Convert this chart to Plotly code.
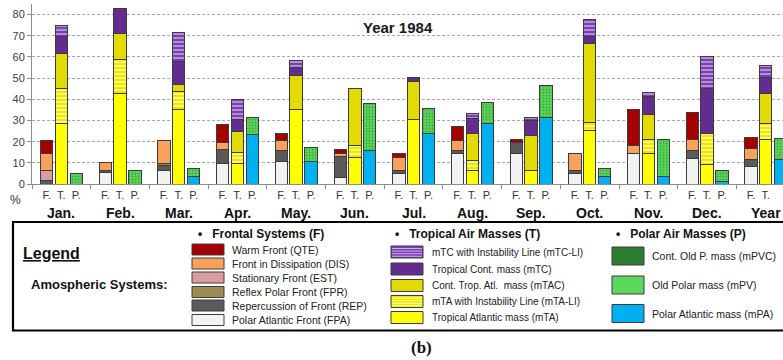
import plotly.graph_objects as go

# ---------------- data ----------------
months = ["Jan.", "Feb.", "Mar.", "Apr.", "May.", "Jun.", "Jul.", "Aug.", "Sep.", "Oct.", "Nov.", "Dec.", "Year"]
group_labels = ["F.", "T.", "P."]
y_ticks = [0, 10, 20, 30, 40, 50, 60, 70, 80]

# Frontal systems (F)
fpa = [0, 5.2, 6.3, 9.9, 10.7, 3.1, 4.9, 14.3, 14.6, 4.9, 14.6, 12.2, 8.3]
rep = [1.5, 1.4, 2.5, 6.3, 5.1, 9.8, 1.7, 1.5, 5.0, 1.5, 0, 3.5, 3.5]
fpr = [0, 0, 1.0, 0, 0, 0, 0, 0, 0, 0, 0, 0, 0]
est = [4.8, 0, 0, 0, 0, 0, 0, 0, 0, 0, 0, 0, 0]
dis = [8.0, 3.4, 10.9, 3.3, 4.9, 1.5, 5.9, 4.9, 0, 7.9, 3.4, 5.2, 5.1]
qte = [6.4, 0, 0, 8.6, 3.3, 1.8, 1.9, 6.6, 1.6, 0, 17.0, 12.8, 5.1]

# Tropical air masses (T)
mta = [28.5, 42.8, 35.3, 9.9, 35.3, 12.7, 30.6, 6.3, 6.6, 25.3, 14.6, 9.4, 21.0]
mta_li = [16.7, 16.0, 8.3, 4.8, 0, 5.5, 0, 4.7, 0, 3.7, 6.6, 14.3, 7.4]
mtac = [16.3, 12.2, 3.5, 9.9, 16.0, 27.0, 18.0, 13.0, 16.5, 37.4, 11.7, 0, 14.4]
mtc = [8.3, 12.1, 10.9, 5.8, 3.9, 0, 1.6, 6.7, 6.9, 3.1, 8.4, 21.5, 7.6]
mtc_li = [4.9, 0, 13.4, 9.6, 3.0, 0, 0, 2.7, 1.5, 8.3, 1.7, 14.9, 5.4]

# Polar air masses (P)
mpa = [0, 0, 3.5, 23.2, 10.7, 16.0, 23.7, 28.7, 31.5, 3.5, 3.5, 1.3, 11.6]
mpv = [5.0, 6.6, 4.0, 8.3, 6.7, 21.8, 11.8, 9.6, 14.9, 4.0, 17.7, 5.0, 10.0]
mpvc = [0, 0, 0, 0, 0, 0, 0, 0, 0, 0, 0, 0, 0]

frontal_names = ["Warm Front (QTE)", "Front in Dissipation (DIS)", "Stationary Front (EST)",
                 "Reflex Polar Front (FPR)", "Repercussion of Front (REP)", "Polar Atlantic Front (FPA)"]
tropical_names = ["mTC with Instability Line (mTC-LI)", "Tropical Cont. mass (mTC)",
                  "Cont. Trop. Atl.  mass (mTAC)", "mTA with Instability Line (mTA-LI)",
                  "Tropical Atlantic mass (mTA)"]
polar_names = ["Cont. Old P. mass (mPVC)", "Old Polar mass (mPV)", "Polar Atlantic mass (mPA)"]

# ---------------- styles ----------------
C = {
    "QTE": "#A50000", "DIS": "#F8A15C", "EST": "#DB9C9C", "FPR": "#9A8C52",
    "REP": "#5A5A5A", "FPA": "#F2F2F2",
    "mTC-LI": "#7B3FB2", "mTC-LI-fg": "#C9AEE8", "mTC": "#642C91", "mTAC": "#E2DA00",
    "mTA-LI": "#EFE700", "mTA-LI-fg": "#FFFFA8", "mTA": "#FFFF00",
    "mPVC": "#2F7D34", "mPV": "#5CD65C", "mPV-fg": "#3DAA3D", "mPA": "#00B0F0",
}
EDGE = "#3C3C3C"
OFF = {"F": -0.25, "T": 0.0, "P": 0.255}
BW = 0.21
FONT = "Liberation Sans, Arial, sans-serif"

fig = go.Figure()


def add(vals, group, color, pattern=None):
    xs = [i + OFF[group] for i in range(len(months))]
    ys = [v if v else None for v in vals]
    marker = dict(color=color, line=dict(color=EDGE, width=1))
    if pattern:
        marker["pattern"] = pattern
    fig.add_trace(go.Bar(x=xs, y=ys, width=BW, marker=marker, showlegend=False,
                         hoverinfo="skip"))


# Frontal (bottom -> top)
add(fpa, "F", C["FPA"])
add(rep, "F", C["REP"])
add(fpr, "F", C["FPR"])
add(est, "F", C["EST"])
add(dis, "F", C["DIS"])
add(qte, "F", C["QTE"])
# Tropical
add(mta, "T", C["mTA"])
add(mta_li, "T", C["mTA-LI"], dict(shape="-", fgcolor=C["mTA-LI-fg"], bgcolor=C["mTA-LI"],
                                    size=4, solidity=0.35, fillmode="replace"))
add(mtac, "T", C["mTAC"])
add(mtc, "T", C["mTC"])
add(mtc_li, "T", C["mTC-LI"], dict(shape="-", fgcolor=C["mTC-LI-fg"], bgcolor=C["mTC-LI"],
                                    size=4, solidity=0.35, fillmode="replace"))
# Polar
add(mpa, "P", C["mPA"])
add(mpv, "P", C["mPV"], dict(shape=".", fgcolor=C["mPV-fg"], bgcolor=C["mPV"],
                              size=3, solidity=0.3, fillmode="replace"))
add(mpvc, "P", C["mPVC"])

# ---------------- geometry helpers (layout only) ----------------
ML, MR, MT, MB = 32, 0, 4, 176
W, H = 783, 360
PW, PH = W - ML - MR, H - MT - MB


def px(x):
    return (x - ML) / PW


def py(y):
    return (H - MB - y) / PH


tickvals, ticktext = [], []
for i in range(len(months)):
    for g, lab in zip(["F", "T", "P"], group_labels):
        tickvals.append(i + OFF[g])
        ticktext.append(lab)

annotations = []
shapes = []


def text(t, x, y, size, color="#111111", family=FONT, xanchor="center", xref="paper"):
    annotations.append(dict(text=t, x=x if xref != "paper" else px(x), y=py(y), xref=xref, yref="paper",
                            xanchor=xanchor, yanchor="middle", showarrow=False,
                            font=dict(size=size, color=color, family=family)))


text("<b>Year 1984</b>", 398, 27, 15, "#1A1A1A")
for i, m in enumerate(months):
    text("<b>%s</b>" % m, i, 213, 14, "#111111", xref="x")
text("%", 15, 200, 12, "#333333")

# Legend box
shapes.append(dict(type="rect", xref="paper", yref="paper", x0=px(13), x1=px(790),
                   y0=py(222), y1=py(330.5), line=dict(color="#000000", width=2.2),
                   fillcolor="rgba(0,0,0,0)"))
text("<b><u>Legend</u></b>", 21, 253, 16, xanchor="left")
text("<b>Amospheric Systems:</b>", 29, 284, 13, xanchor="left")

NB = "\u00a0"
headers = [("•" + NB * 3 + "Frontal Systems (F)", 196),
           ("•" + NB * 3 + "Tropical Air Masses (T)", 393),
           ("•" + NB * 3 + "Polar Air Masses (P)", 614)]
for txt, hx in headers:
    text("<b>%s</b>" % txt, hx, 234, 12, xanchor="left")


def swatch(x0, x1, yc, h, color, stripes=None):
    shapes.append(dict(type="rect", xref="paper", yref="paper", x0=px(x0), x1=px(x1),
                       y0=py(yc + h / 2), y1=py(yc - h / 2), fillcolor=color,
                       line=dict(color=EDGE, width=1)))
    if stripes:
        yy = yc - h / 2 + 2.5
        while yy < yc + h / 2 - 1:
            shapes.append(dict(type="line", xref="paper", yref="paper", x0=px(x0 + 1), x1=px(x1 - 1),
                               y0=py(yy), y1=py(yy), line=dict(color=stripes, width=1)))
            yy += 2.6


f_colors = [C["QTE"], C["DIS"], C["EST"], C["FPR"], C["REP"], C["FPA"]]
f_y = [249.5, 263.5, 277.5, 292, 305.5, 320]
for name, col, yc in zip(frontal_names, f_colors, f_y):
    swatch(192, 224, yc, 11, col)
    text(name, 230, yc, 10.5, "#222222", xanchor="left")

t_colors = [(C["mTC-LI"], C["mTC-LI-fg"]), (C["mTC"], None), (C["mTAC"], None),
            (C["mTA-LI"], C["mTA-LI-fg"]), (C["mTA"], None)]
t_y = [252, 269, 285.5, 301.5, 317.5]
for name, (col, st), yc in zip(tropical_names, t_colors, t_y):
    swatch(391, 423, yc, 12, col, st)
    text(name, 430, yc, 10, "#222222", xanchor="left")

p_colors = [C["mPVC"], C["mPV"], C["mPA"]]
p_y = [256, 285, 313.5]
for name, col, yc in zip(polar_names, p_colors, p_y):
    swatch(612, 644, yc, 18, col)
    text(name, 650, yc, 10.5, "#222222", xanchor="left")

text("<b>(b)</b>", 421, 347, 17, family="Liberation Serif, DejaVu Serif, serif")

fig.update_layout(
    width=W, height=H,
    margin=dict(l=ML, r=MR, t=MT, b=MB, pad=0),
    barmode="stack",
    paper_bgcolor="white", plot_bgcolor="white",
    font=dict(family=FONT, size=11, color="#404040"),
    showlegend=False,
    annotations=annotations,
    shapes=shapes,
    xaxis=dict(range=[-0.5, -0.5 + PW / 58.7], tickmode="array", tickvals=tickvals, ticktext=ticktext,
               ticks="", showgrid=False, zeroline=False, showline=True, linecolor="#8C8C8C",
               linewidth=1, tickfont=dict(size=11, color="#333333"), ticklabelstandoff=1,
               minor=dict(tickmode="linear", tick0=0.5, dtick=1, ticks="outside", ticklen=4,
                          tickcolor="#8C8C8C", showgrid=False)),
    yaxis=dict(range=[0, 85], tickmode="array", tickvals=y_ticks, ticks="outside", ticklen=4,
               tickcolor="#8C8C8C", showgrid=True, gridcolor="#A6A6A6", griddash="3px,2px",
               gridwidth=1, zeroline=False, showline=True, linecolor="#8C8C8C", linewidth=1,
               tickfont=dict(size=11, color="#404040")),
)

fig.write_html("out.html")
